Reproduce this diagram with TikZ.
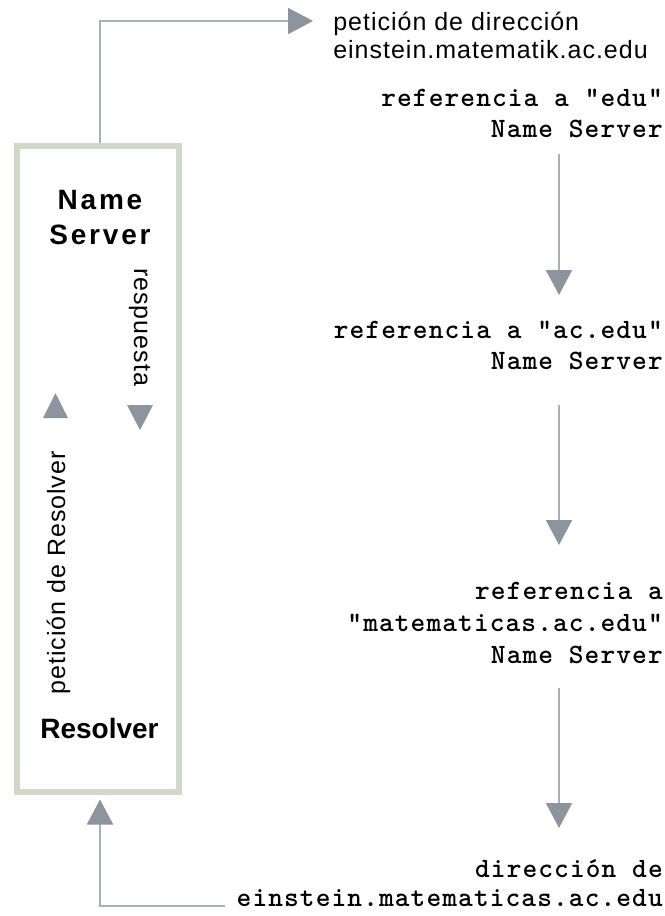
\documentclass[tikz,border=0pt]{standalone}
\usepackage{fontspec}
\setmainfont{Liberation Sans}
\usetikzlibrary{arrows.meta}
\newfontfamily\labelfont[LetterSpace=4]{Liberation Sans}
\newfontfamily\titlefont[LetterSpace=10]{Liberation Sans}
\newfontfamily\plainbold{Liberation Sans}
\newfontfamily\codefont[LetterSpace=4]{lmmonolt10-bold.otf}
\definecolor{linegray}{HTML}{A9B0B8}
\definecolor{tipgray}{HTML}{8C949E}
\definecolor{boxgreen}{HTML}{D0D9C8}
\begin{document}
\begin{tikzpicture}[x=0.75pt,y=-0.75pt,
  flow/.style={draw=linegray, line width=1.5pt,
    -{Triangle[length=18.75pt,width=19.5pt,color=tipgray]}},
  tri/.style={fill=tipgray},
  hostbox/.style={draw=boxgreen, line width=4.5pt, fill=white,
    minimum width=121.5pt, minimum height=483.75pt, inner sep=0pt},
  codetext/.style={font=\codefont\fontsize{21pt}{23.25pt}\selectfont,
    align=right, inner sep=0pt, anchor=base east},
  sanstext/.style={font=\labelfont\fontsize{18.75pt}{21pt}\selectfont,
    inner sep=0pt},
  titletext/.style={font=\titlefont\bfseries\fontsize{21pt}{26.25pt}\selectfont,
    align=center, inner sep=0pt, anchor=base}]
\useasboundingbox (0,0) rectangle (664,916);
\fill[white] (0,0) rectangle (664,916);

% the host: name server + resolver
\node[hostbox] (ns) at (97.5,469) {};
\node[titletext] (nstitle) at (100,244) {Name\\Server};
\node[titletext, font=\plainbold\bfseries\fontsize{21pt}{26.25pt}\selectfont] (res) at (99.5,738) {Resolver};
\node[sanstext, rotate=-90, anchor=base west] (resp) at (134,268) {respuesta};
\node[sanstext, rotate=90, anchor=base west] (preq) at (65,695) {petición de Resolver};
\fill[tri] (43,418) -- (68,418) -- (55.5,393) -- cycle;
\fill[tri] (127,405) -- (153,405) -- (140,430) -- cycle;

% query sent out (node base = baseline of its last line)
\node[sanstext, align=left, anchor=base west] (req) at (333,59)
  {petición de dirección\\einstein.matematik.ac.edu};

% chain of referrals
\node[codetext] (ref1) at (663,138) {referencia a "edu"\\Name Server};
\node[codetext] (ref2) at (663,369) {referencia a "ac.edu"\\Name Server};
\node[codetext, font=\codefont\fontsize{21pt}{24pt}\selectfont] (ref3) at (663,663)
  {referencia a \\"matematicas.ac.edu"\\Name Server};
\node[codetext, font=\codefont\fontsize{21pt}{21.75pt}\selectfont] (ans) at (663,906)
  {dirección de\\einstein.matematicas.ac.edu};

% connector end points
\coordinate (upx) at (100,0);
\coordinate (reqtip) at (313,21);
\coordinate (a1s) at (559,154);
\coordinate (a1e) at (559,295);
\coordinate (a2s) at (559,405);
\coordinate (a2e) at (559,545);
\coordinate (a3s) at (559,688);
\coordinate (a3e) at (559,828);
\coordinate (retstart) at (225,906);

\draw[flow] (ns.north -| upx) |- (reqtip);
\draw[flow] (a1s) -- (a1e);
\draw[flow] (a2s) -- (a2e);
\draw[flow] (a3s) -- (a3e);
\draw[flow, shorten >=3.75pt] (retstart) -| (ns.south -| upx);
\end{tikzpicture}
\end{document}
